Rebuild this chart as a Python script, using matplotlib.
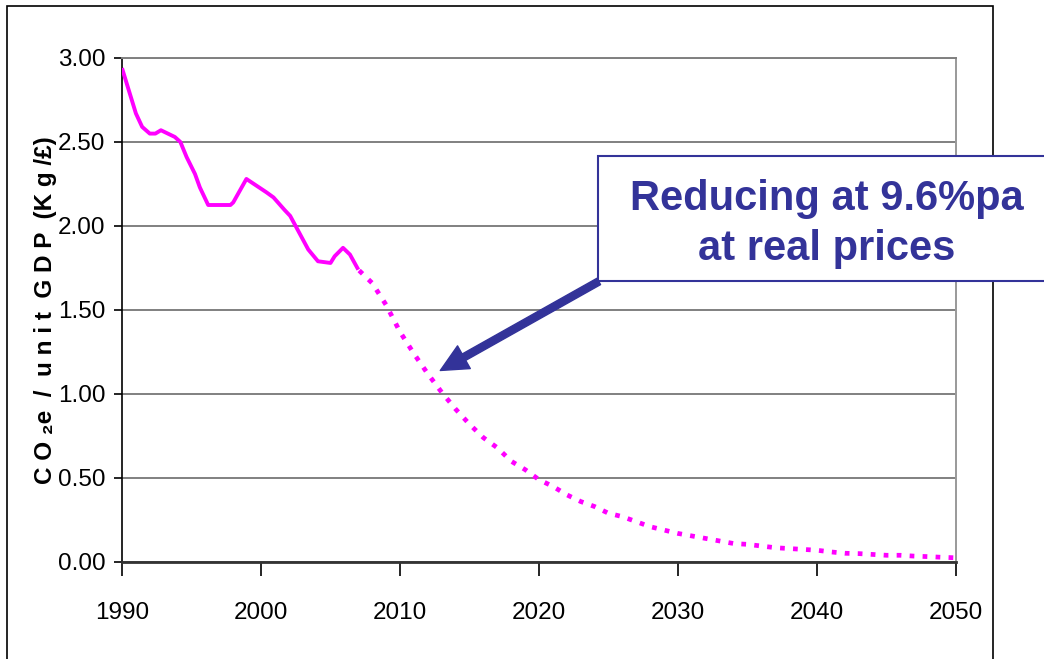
import matplotlib.pyplot as plt
from matplotlib.patches import Rectangle

# measured emissions intensity, 1990-2007
hist_years = [1990, 1991.0, 1991.45, 1992.0, 1992.4, 1992.8, 1993.3, 1993.8, 1994.2,
              1994.65, 1995.25, 1995.6, 1996.2, 1997.8, 1998.0, 1998.95, 2000.4,
              2000.9, 2001.7, 2002.1, 2003.4, 2004.1, 2005.0, 2005.3, 2005.9,
              2006.4, 2007.0]
hist_vals = [2.94, 2.67, 2.59, 2.55, 2.55, 2.57, 2.55, 2.53, 2.50,
             2.41, 2.31, 2.23, 2.125, 2.125, 2.14, 2.28, 2.20,
             2.17, 2.095, 2.06, 1.86, 1.79, 1.78, 1.82, 1.87,
             1.83, 1.74]

# projected path 2007-2050
proj_years = list(range(2007, 2051))
proj_vals = [1.74, 1.66, 1.53, 1.37, 1.24, 1.12, 1.01, 0.91, 0.82, 0.74,
             0.68, 0.60, 0.55, 0.49, 0.45, 0.40, 0.36, 0.33, 0.29, 0.27,
             0.24, 0.21, 0.19, 0.17, 0.155, 0.14, 0.125, 0.11, 0.105, 0.095,
             0.085, 0.08, 0.075, 0.07, 0.06, 0.052, 0.05, 0.045, 0.04, 0.04,
             0.035, 0.032, 0.028, 0.025]

xticks = [1990, 2000, 2010, 2020, 2030, 2040, 2050]
yticks = [0.0, 0.5, 1.0, 1.5, 2.0, 2.5, 3.0]

sans = ['Liberation Sans', 'DejaVu Sans']
navy = '#333399'
pink = '#FF00FF'

fig = plt.figure(figsize=(10.44, 6.59), dpi=100)
ax = fig.add_axes([122 / 1044, 1 - 562 / 659, 834 / 1044, 504 / 659])

ax.plot(hist_years, hist_vals, color=pink, lw=2.8, solid_capstyle='butt', zorder=3)
ax.plot(proj_years, proj_vals, color=pink, lw=3.4, linestyle=(2.5, (1.0, 1.75)),
        dash_capstyle='butt', zorder=3)

ax.set_xlim(1990, 2050)
ax.set_ylim(0, 3)
ax.set_xticks(xticks)
ax.set_yticks(yticks)
ax.set_xticklabels([str(t) for t in xticks], family=sans, fontsize=17.5)
ax.set_yticklabels(['%.2f' % t for t in yticks], family=sans, fontsize=17.5)
ax.tick_params(axis='x', direction='out', length=10, width=1.2, pad=19, colors='black')
ax.tick_params(axis='y', direction='out', length=6, width=1.2, pad=6, colors='black')

ax.yaxis.grid(True, color='#808080', lw=1.4)
ax.set_axisbelow(True)
ax.spines['left'].set_color('black')
ax.spines['left'].set_linewidth(1.2)
ax.spines['bottom'].set_color('#333333')
ax.spines['bottom'].set_linewidth(2.0)
ax.spines['right'].set_color('#999999')
ax.spines['right'].set_linewidth(1.4)
ax.spines['top'].set_color('#808080')
ax.spines['top'].set_linewidth(1.4)

fig.text(46 / 1044, 1 - 310 / 659, 'C O \u2082e  /  u n i t  G D P  (K g /\u00a3)',
         rotation=90, ha='center', va='center', fontsize=17.5, fontweight='bold',
         family=sans)

# outer frame around the chart area
fig.patches.append(Rectangle((7 / 1044, -0.2), 986 / 1044, 1.2 - 6 / 659,
                             transform=fig.transFigure, fill=False,
                             edgecolor='black', lw=1.2, zorder=0))

# callout box with arrow
ax.annotate('', xy=(2012.9, 1.14), xytext=(2024.3, 1.67),
            arrowprops=dict(arrowstyle='simple,head_length=1.3,head_width=1.25,tail_width=0.35',
                            mutation_scale=15, color=navy, shrinkA=0, shrinkB=0),
            zorder=4)
fig.patches.append(Rectangle((598 / 1044, 1 - 281 / 659), 0.6, 125 / 659,
                             transform=fig.transFigure, facecolor='white',
                             edgecolor=navy, lw=1.5, zorder=5))
fig.text(827 / 1044, 1 - 210 / 659, 'Reducing at 9.6%pa', ha='center', va='baseline',
         fontsize=30, fontweight='bold', color=navy, family='Liberation Sans', zorder=6)
fig.text(827 / 1044, 1 - 260 / 659, 'at real prices', ha='center', va='baseline',
         fontsize=30, fontweight='bold', color=navy, family='Liberation Sans', zorder=6)

plt.savefig('out.png', dpi=100)
